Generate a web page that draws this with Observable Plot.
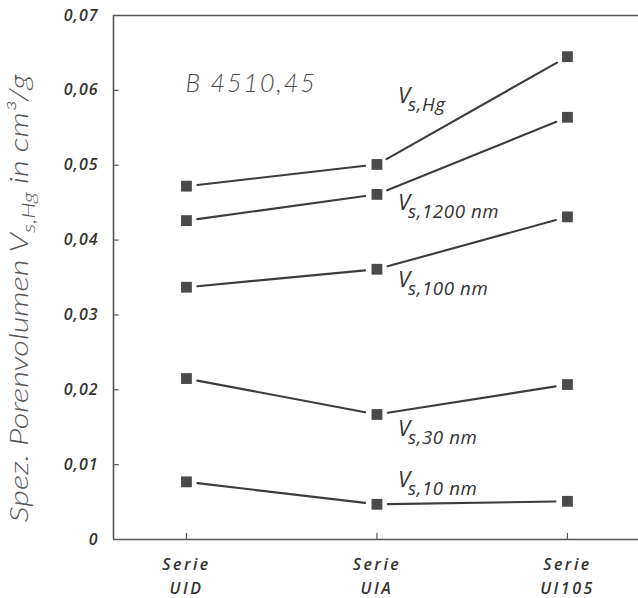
<!DOCTYPE html>
<html>
<head>
<meta charset="utf-8">
<script src="https://cdn.jsdelivr.net/npm/d3@7"></script>
<script src="https://cdn.jsdelivr.net/npm/@observablehq/plot@0.6"></script>
<style>
  html, body { margin: 0; padding: 0; background: #fff; }
  svg { display: block; }
</style>
</head>
<body>
<div id="chart"></div>
<script>
// ---- data ----
const categories = ["UID", "UIA", "UI105"];
const xTickLabels = ["Serie\nUID", "Serie\nUIA", "Serie\nUI105"];
const seriesNames = ["V_{s,Hg}", "V_{s,1200 nm}", "V_{s,100 nm}", "V_{s,30 nm}", "V_{s,10 nm}"];
const vHg   = [0.0472, 0.0501, 0.0645];
const v1200 = [0.0426, 0.0461, 0.0564];
const v100  = [0.0337, 0.0361, 0.0431];
const v30   = [0.0215, 0.0167, 0.0207];
const v10   = [0.0077, 0.0047, 0.0051];
const labelY = [0.0593, 0.0450, 0.0347, 0.0148, 0.0080];
const yTicks = [0, 0.01, 0.02, 0.03, 0.04, 0.05, 0.06, 0.07];
const sampleLabel = "B 4510,45";
const sampleY = 0.0609;
const yTitle = "Spez. Porenvolumen V_{s,Hg} in cm³/g";

const seriesValues = [vHg, v1200, v100, v30, v10];
const points = seriesValues.flatMap((vals, s) => vals.map((v, i) => ({s, x: i, y: v})));
const segments = seriesValues.flatMap((vals, s) =>
  vals.slice(0, -1).map((v, i) => ({s, x1: i, y1: v, x2: i + 1, y2: vals[i + 1]})));
const labels = seriesNames.map((name, i) => ({name, x: 1, y: labelY[i]}));

const ink = "#3c3c3c";
const xMin = -0.383;

const chart = Plot.plot({
  width: 638,
  height: 598,
  marginTop: 15,
  marginBottom: 59,
  marginLeft: 113,
  marginRight: 0,
  style: {fontFamily: "'Open Sans', sans-serif", fontStyle: "italic", fontSize: "16px", color: "#333", background: "#fff"},
  x: {type: "linear", domain: [xMin, 2.373], axis: null},
  y: {domain: [0, 0.07], ticks: yTicks, tickSize: 0, tickPadding: 15,
      tickFormat: d => d === 0 ? "0" : d.toFixed(2).replace(".", ","), label: null},
  marks: [
    Plot.ruleY([0, 0.07], {stroke: "#555", strokeWidth: 1.6}),
    Plot.ruleX([xMin], {stroke: "#555", strokeWidth: 1.6}),
    Plot.ruleY(yTicks.slice(1, -1), {x1: xMin, x2: xMin + 0.03, stroke: "#555", strokeWidth: 1.2}),
    Plot.ruleX([0, 1, 2], {y1: 0, y2: 0.0008, stroke: "#555", strokeWidth: 1.2}),
    Plot.text(xTickLabels, {x: (d, i) => i, frameAnchor: "bottom", lineAnchor: "top", dy: 13,
      lineHeight: 1.5, fontSize: 16, fontWeight: 600, fill: "#333", text: d => d}),
    Plot.arrow(segments, {x1: "x1", y1: "y1", x2: "x2", y2: "y2", headLength: 0,
      insetStart: 11, insetEnd: 12, stroke: ink, strokeWidth: 2.1}),
    Plot.dot(points, {x: "x", y: "y", symbol: "square", r: 6.1, fill: "#4a4a4a", stroke: "none"}),
    Plot.text(labels, {x: "x", y: "y", text: "name", dx: 21, textAnchor: "start",
      lineAnchor: "middle", fontSize: 22, fill: "#333"}),
    Plot.text([sampleLabel], {x: 0, y: sampleY, text: d => d, dx: -1, textAnchor: "start",
      lineAnchor: "middle", fontSize: 25, fill: "#4a4a4a", fontFamily: "Lato", fontWeight: 300}),
    Plot.text([yTitle], {text: d => d, frameAnchor: "left", rotate: -90, dx: -94, dy: 21,
      textAnchor: "middle", lineAnchor: "middle", fontSize: 25, fill: "#555", fontFamily: "Lato", fontWeight: 300})
  ]
});
document.getElementById("chart").appendChild(chart);

// subscripts
const svgns = "http://www.w3.org/2000/svg";
d3.select(chart).selectAll("text").each(function() {
  const s = this.textContent;
  if (!s.includes("_{")) return;
  const fs = parseFloat(getComputedStyle(this).fontSize);
  const isTitle = s === yTitle;
  const parts = s.split(/_\{([^}]*)\}/);
  while (this.firstChild) this.removeChild(this.firstChild);
  parts.forEach((p, i) => {
    if (p === "") return;
    const t = document.createElementNS(svgns, "tspan");
    t.textContent = p;
    if (i % 2) {
      t.setAttribute("font-size", (fs * (isTitle ? 0.72 : 0.85)) + "px");
      t.setAttribute("dy", (fs * (isTitle ? 0.3 : 0.36)) + "px");
      if (!isTitle) { t.setAttribute("dx", "-2px"); t.setAttribute("letter-spacing", "0.6px"); }
    }
    else if (i > 0) { t.setAttribute("dy", (-fs * 0.3) + "px"); }
    this.appendChild(t);
  });
  if (isTitle) {
    this.setAttribute("textLength", 448);
    this.setAttribute("lengthAdjust", "spacingAndGlyphs");
  }
});
// letter-spacing on tick labels and sample label
d3.select(chart).selectAll("text").filter(function() { return /Serie/.test(this.textContent); })
  .style("letter-spacing", "2.5px");
d3.select(chart).selectAll("g[aria-label='y-axis tick label'] text, g[aria-label='y-axis'] text")
  .style("letter-spacing", "1px").style("font-weight", 600);
d3.select(chart).selectAll("text").filter(function() { return this.textContent === sampleLabel; })
  .style("letter-spacing", "2px");
</script>
</body>
</html>
